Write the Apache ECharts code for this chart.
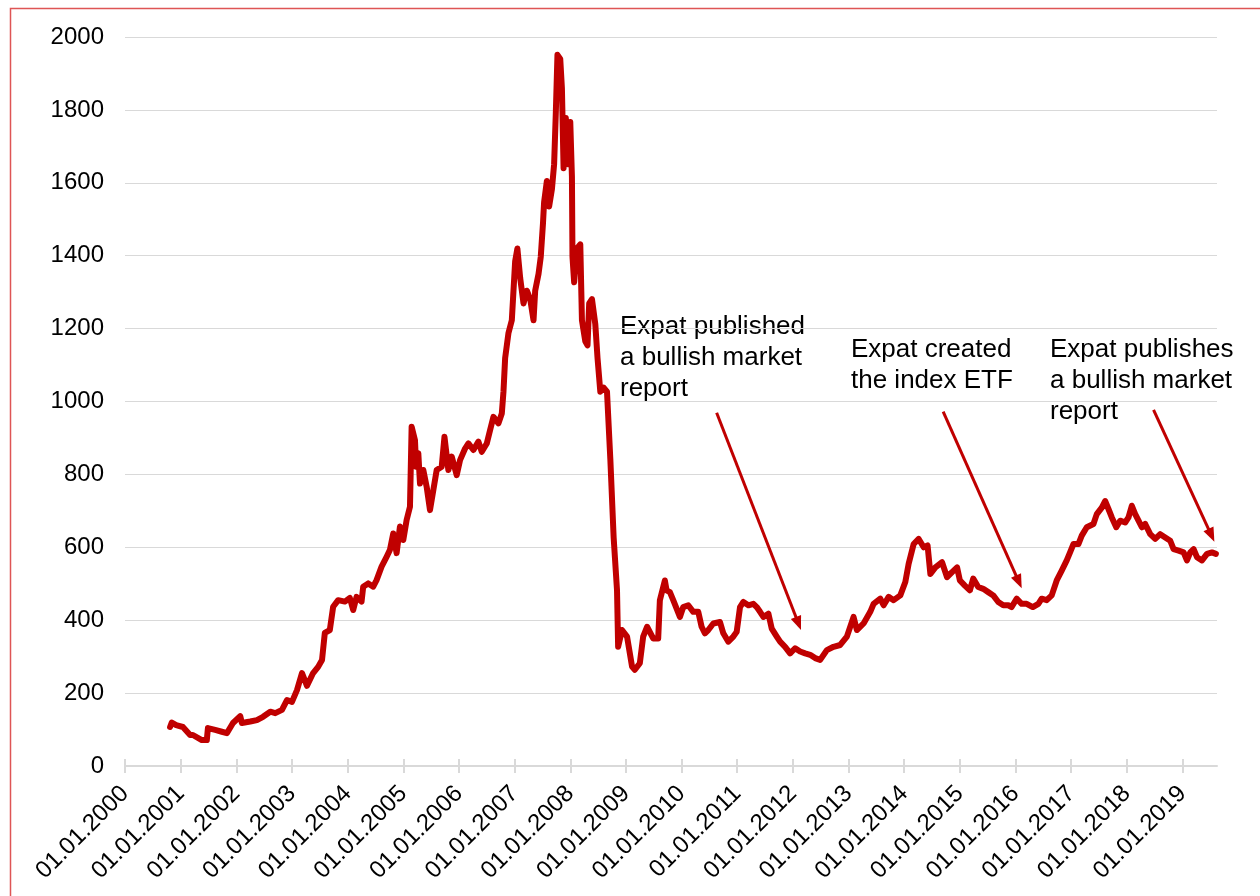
<!DOCTYPE html>
<html>
<head>
<meta charset="utf-8">
<script src="https://cdn.jsdelivr.net/npm/echarts@6/dist/echarts.min.js"></script>
<style>
  html, body { margin: 0; padding: 0; background: #fff; }
  #chart { width: 1260px; height: 896px; }
</style>
</head>
<body>
<div id="chart"></div>
<script>
// Index level, sampled at fractional years
const years = [
  2000.81, 2000.84, 2000.92, 2001.04, 2001.17, 2001.22, 2001.38, 2001.47, 2001.49, 2001.62,
  2001.74, 2001.83, 2001.94, 2002.07, 2002.10, 2002.25, 2002.37, 2002.48, 2002.61, 2002.70,
  2002.82, 2002.91, 2003.00, 2003.09, 2003.18, 2003.27, 2003.38, 2003.47, 2003.54, 2003.59,
  2003.68, 2003.74, 2003.83, 2003.95, 2004.04, 2004.10, 2004.16, 2004.25, 2004.28, 2004.37,
  2004.46, 2004.52, 2004.61, 2004.70, 2004.76, 2004.82, 2004.88, 2004.94, 2005.00, 2005.06,
  2005.12, 2005.15, 2005.21, 2005.23, 2005.27, 2005.30, 2005.36, 2005.42, 2005.48, 2005.54,
  2005.60, 2005.69, 2005.74, 2005.81, 2005.87, 2005.96, 2006.02, 2006.11, 2006.17, 2006.26,
  2006.35, 2006.41, 2006.50, 2006.56, 2006.62, 2006.71, 2006.77, 2006.80, 2006.83, 2006.89,
  2006.95, 2007.01, 2007.05, 2007.10, 2007.16, 2007.22, 2007.28, 2007.34, 2007.37, 2007.43,
  2007.47, 2007.51, 2007.53, 2007.58, 2007.62, 2007.67, 2007.71, 2007.74, 2007.77, 2007.82,
  2007.85, 2007.88, 2007.92, 2007.96, 2008.00, 2008.03, 2008.04, 2008.07, 2008.12, 2008.18,
  2008.21, 2008.27, 2008.31, 2008.34, 2008.39, 2008.45, 2008.49, 2008.54, 2008.60, 2008.66,
  2008.72, 2008.78, 2008.84, 2008.86, 2008.93, 2009.02, 2009.11, 2009.16, 2009.25, 2009.31,
  2009.38, 2009.49, 2009.58, 2009.61, 2009.70, 2009.73, 2009.79, 2009.85, 2009.97, 2010.03,
  2010.12, 2010.21, 2010.30, 2010.36, 2010.42, 2010.48, 2010.57, 2010.69, 2010.75, 2010.84,
  2010.93, 2010.99, 2011.05, 2011.11, 2011.20, 2011.29, 2011.35, 2011.41, 2011.47, 2011.56,
  2011.62, 2011.71, 2011.77, 2011.86, 2011.95, 2012.04, 2012.13, 2012.22, 2012.31, 2012.40,
  2012.49, 2012.61, 2012.73, 2012.85, 2012.97, 2013.09, 2013.15, 2013.27, 2013.39, 2013.45,
  2013.57, 2013.63, 2013.72, 2013.81, 2013.93, 2014.02, 2014.08, 2014.17, 2014.26, 2014.35,
  2014.42, 2014.47, 2014.56, 2014.68, 2014.77, 2014.86, 2014.95, 2015.00, 2015.09, 2015.18,
  2015.24, 2015.33, 2015.42, 2015.51, 2015.60, 2015.69, 2015.78, 2015.87, 2015.93, 2016.02,
  2016.11, 2016.20, 2016.31, 2016.41, 2016.47, 2016.56, 2016.65, 2016.74, 2016.83, 2016.92,
  2016.98, 2017.04, 2017.13, 2017.19, 2017.28, 2017.40, 2017.46, 2017.55, 2017.61, 2017.67,
  2017.73, 2017.81, 2017.88, 2017.97, 2018.03, 2018.09, 2018.15, 2018.21, 2018.27, 2018.33,
  2018.42, 2018.51, 2018.60, 2018.69, 2018.78, 2018.84, 2018.93, 2019.02, 2019.08, 2019.14,
  2019.20, 2019.26, 2019.35, 2019.44, 2019.53, 2019.60
];

const values = [
  107, 119, 112, 107, 85, 85, 71, 71, 104, 99,
  94, 90, 118, 137, 118, 122, 126, 135, 149, 145,
  154, 181, 176, 208, 255, 220, 255, 272, 291, 365,
  373, 437, 455, 451, 461, 428, 464, 451, 492, 501,
  492, 510, 547, 574, 593, 638, 584, 657, 620, 675,
  711, 931, 894, 821, 858, 775, 812, 766, 702, 757,
  812, 821, 903, 812, 849, 798, 839, 871, 885, 867,
  890, 862, 885, 922, 958, 940, 967, 1027, 1119, 1188,
  1223, 1385, 1420, 1339, 1269, 1304, 1281, 1223, 1304, 1350,
  1397, 1489, 1547, 1605, 1535, 1582, 1651, 1790, 1951, 1940,
  1859, 1640, 1778, 1651, 1767, 1617, 1397, 1327, 1420, 1431,
  1223, 1165, 1154, 1269, 1281, 1212, 1119, 1027, 1038, 1027,
  842, 626, 482, 327, 373, 355, 273, 264, 282, 355,
  382, 350, 350, 455, 509, 482, 477, 455, 409, 436,
  441, 423, 423, 382, 364, 373, 391, 395, 364, 341,
  355, 368, 436, 450, 441, 445, 436, 423, 409, 418,
  377, 355, 341, 327, 309, 323, 314, 309, 305, 296,
  291, 318, 327, 332, 355, 409, 373, 391, 423, 445,
  459, 441, 464, 455, 468, 505, 555, 609, 623, 600,
  605, 527, 545, 559, 518, 532, 545, 509, 495, 482,
  514, 491, 486, 477, 468, 450, 441, 441, 436, 459,
  445, 445, 436, 445, 459, 455, 468, 509, 536, 564,
  586, 609, 609, 632, 655, 664, 691, 709, 727, 705,
  682, 655, 673, 668, 682, 714, 691, 673, 655, 664,
  636, 623, 636, 627, 618, 595, 591, 586, 564, 586,
  595, 573, 564, 582, 586, 582
];

// Year ticks along the date axis
const tickYears = [
  2000, 2001, 2002, 2003, 2004, 2005, 2006, 2007, 2008, 2009,
  2010, 2011, 2012, 2013, 2014, 2015, 2016, 2017, 2018, 2019
];

// Annotation texts
const noteTexts = [
  'Expat published\na bullish market\nreport',
  'Expat created\nthe index ETF',
  'Expat publishes\na bullish market\nreport'
];

const FONT = '"Liberation Sans", Arial, sans-serif';
const RED = '#C00000';
const GRID = '#D9D9D9';

const seriesData = years.map((t, i) => [t, values[i]]);

const chart = echarts.init(document.getElementById('chart'), null, { renderer: 'canvas' });

const arrowStyle = { color: RED, width: 3, type: 'solid' };

chart.setOption({
  animation: false,
  backgroundColor: '#ffffff',
  grid: { left: 125, right: 43, top: 37, bottom: 130, containLabel: false },
  xAxis: [
    {
      type: 'value',
      min: 2000,
      max: 2019.62,
      position: 'bottom',
      axisLine: { show: true, lineStyle: { color: GRID, width: 2 } },
      axisTick: { show: true, length: 7, customValues: tickYears, lineStyle: { color: GRID, width: 2 } },
      axisLabel: {
        customValues: tickYears,
        rotate: 45,
        margin: 24,
        fontSize: 24,
        fontFamily: FONT,
        color: '#000',
        formatter: v => '01.01.' + Math.round(v)
      },
      splitLine: { show: false }
    },
    {
      // inner half of the cross tick marks
      type: 'value',
      min: 2000,
      max: 2019.62,
      position: 'bottom',
      axisLine: { show: false },
      axisTick: { show: true, inside: true, length: 7, customValues: tickYears, lineStyle: { color: GRID, width: 2 } },
      axisLabel: { show: false },
      splitLine: { show: false }
    }
  ],
  yAxis: {
    type: 'value',
    min: 0,
    max: 2000,
    interval: 200,
    axisLine: { show: false },
    axisTick: { show: false },
    axisLabel: {
      fontSize: 24,
      fontFamily: FONT,
      color: '#000',
      margin: 21,
      formatter: v => String(v)
    },
    splitLine: { show: true, lineStyle: { color: GRID, width: 1 } }
  },
  series: [
    {
      type: 'line',
      xAxisIndex: 0,
      data: seriesData,
      showSymbol: false,
      symbol: 'none',
      smooth: false,
      lineStyle: { color: RED, width: 6, cap: 'round', join: 'round' },
      z: 3,
      markLine: {
        silent: true,
        animation: false,
        symbol: ['none', 'triangle'],
        symbolSize: [11, 14],
        label: { show: false },
        lineStyle: arrowStyle,
        data: [
          [{ coord: [2010.63, 969] }, { coord: [2012.10, 391] }],
          [{ coord: [2014.70, 972] }, { coord: [2016.06, 505] }],
          [{ coord: [2018.48, 977] }, { coord: [2019.52, 633] }]
        ]
      }
    }
  ],
  graphic: [
    {
      type: 'rect',
      shape: { x: 10.5, y: 8.5, width: 1300, height: 1000 },
      style: { fill: 'none', stroke: '#DE5555', lineWidth: 1.5 },
      silent: true,
      z: 10
    },
    {
      type: 'text', left: 620, top: 311,
      style: { text: noteTexts[0], font: '26px ' + FONT, fill: '#000', lineHeight: 31 }
    },
    {
      type: 'text', left: 851, top: 334,
      style: { text: noteTexts[1], font: '26px ' + FONT, fill: '#000', lineHeight: 31 }
    },
    {
      type: 'text', left: 1050, top: 334,
      style: { text: noteTexts[2], font: '26px ' + FONT, fill: '#000', lineHeight: 31 }
    }
  ]
});
</script>
</body>
</html>
